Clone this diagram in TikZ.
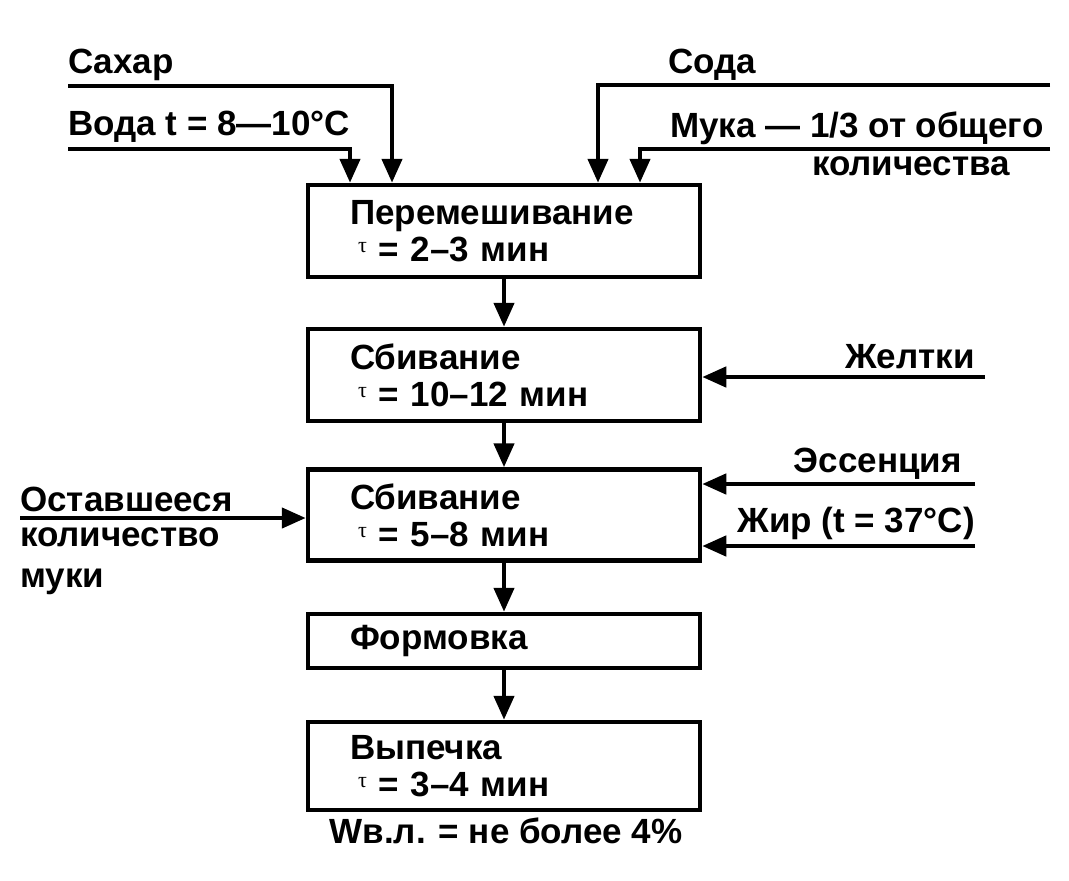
\documentclass[tikz,border=0pt]{standalone}
\usepackage{fontspec}
\setmainfont{Liberation Sans}
\newfontfamily\taufont{Liberation Serif}
\usetikzlibrary{arrows.meta}
\newcommand\mytau{\hspace*{8pt}{\taufont\mdseries\fontsize{22}{22}\selectfont\raisebox{9pt}{τ}}\hspace{12pt}}
\begin{document}
\begin{tikzpicture}[x=1pt,y=-1pt,
  every node/.style={font=\fontsize{35}{37}\selectfont\bfseries},
  lbl/.style={inner sep=0pt},
  box/.style={draw, line width=4.5pt, minimum width=392pt, text width=308pt,
              inner xsep=42pt, inner ysep=0pt, align=left},
  arr/.style={line width=4.5pt, -{Triangle[width=20pt,length=24pt]}}]
\useasboundingbox (0,0) rectangle (1069,881);

% process boxes
\node[box, minimum height=92pt] (p1) at (504,231) {Перемешивание\\\mytau= 2–3 мин};
\node[box, minimum height=92pt] (p2) at (504,375) {Сбивание\\\mytau= 10–12 мин};
\node[box, minimum height=91pt] (p3) at (504,515) {Сбивание\\\mytau= 5–8 мин};
\node[box, minimum height=54pt] (p4) at (504,641) {Формовка};
\node[box, minimum height=88pt] (p5) at (504,766) {Выпечка\\\mytau= 3–4 мин};

% flow between boxes
\draw[arr] (p1) -- (p2);
\draw[arr] (p2) -- (p3);
\draw[arr] (p3) -- (p4);
\draw[arr] (p4) -- (p5);

% labels
\node[lbl, anchor=base west] (lsa) at (68,73) {Сахар};
\node[lbl, anchor=base west] (lvo) at (68,135) {Вода t = 8—10°C};
\node[lbl, anchor=base west] (lso) at (668,73) {Сода};
\node[lbl, anchor=base west] (lmu) at (670,137) {Мука — 1/3 от общего};
\node[lbl, anchor=base east] (lmu2) at (1010,175) {количества};
\node[lbl, anchor=base east] (lzh) at (975,368) {Желтки};
\node[lbl, anchor=base east] (les) at (962,472) {Эссенция};
\node[lbl, anchor=base east] (lfat) at (975,532) {Жир (t = 37°C)};
\node[lbl, anchor=base west] (lost) at (20,511) {Оставшееся};
\node[lbl, anchor=base west] (lost2) at (20,546) {количество};
\node[lbl, anchor=base west] (lost3) at (20,587) {муки};
\node[lbl, anchor=base] (lw) at (506,843) {Wв.л. = не более 4\%};

% inputs
\coordinate (sa) at (68,86);
\coordinate (vo) at (68,149);
\coordinate (so) at (1050,85);
\coordinate (mu) at (1050,149);
\coordinate (zh) at (985,377);
\coordinate (es) at (975,484);
\coordinate (fat) at (975,546);
\coordinate (ost) at (20,518);
\draw[arr] (sa) -| ([xshift=-112pt]p1.north);
\draw[arr] (vo) -| ([xshift=-154pt]p1.north);
\draw[arr] (so) -| ([xshift=94pt]p1.north);
\draw[arr] (mu) -| ([xshift=136pt]p1.north);
\draw[arr] (zh) -- (zh -| p2.east);
\draw[arr] (es) -- (es -| p3.east);
\draw[arr] (fat) -- (fat -| p3.east);
\draw[arr] (ost) -- (ost -| p3.west);
\end{tikzpicture}
\end{document}
